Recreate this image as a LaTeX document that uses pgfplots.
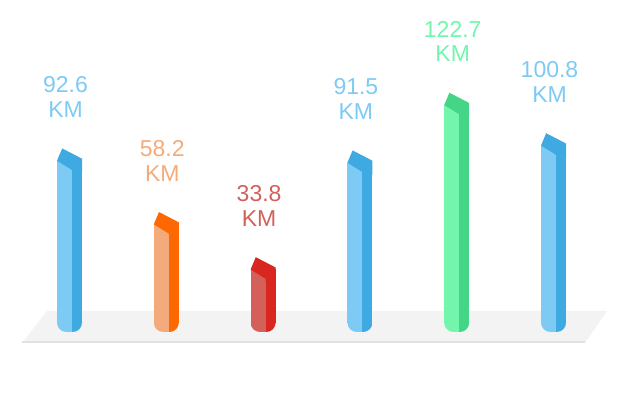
\documentclass[border=0pt]{standalone}
\usepackage{pgfplots}
\pgfplotsset{compat=1.18}
\usepackage{fontspec}
\setmainfont{Liberation Sans}
\definecolor{bL}{HTML}{7DCAF4}
\definecolor{bD}{HTML}{3FA9E1}
\definecolor{oL}{HTML}{F4AB7B}
\definecolor{oD}{HTML}{FD6802}
\definecolor{rL}{HTML}{D4605A}
\definecolor{rD}{HTML}{D92720}
\definecolor{gL}{HTML}{73F5AE}
\definecolor{gD}{HTML}{44D586}
\definecolor{floorc}{HTML}{F3F3F3}
\definecolor{floorl}{HTML}{E2E2E2}
% top cap (same colour as the side face)
\pgfdeclareplotmark{barcap}{%
  \pgfpathmoveto{\pgfpoint{-12.5pt}{0pt}}%
  \pgfpathlineto{\pgfpoint{-7.3pt}{12.3pt}}%
  \pgfpathlineto{\pgfpoint{12.5pt}{2pt}}%
  \pgfpathlineto{\pgfpoint{12.5pt}{-12pt}}%
  \pgfpathlineto{\pgfpoint{2.5pt}{-12pt}}%
  \pgfpathlineto{\pgfpoint{2.5pt}{-9.3pt}}%
  \pgfpathclose\pgfusepathqfill}
% masks that round the bottom corners
\pgfdeclareplotmark{maskL}{%
  \pgfpathmoveto{\pgfpoint{-12.8pt}{-0.3pt}}%
  \pgfpathlineto{\pgfpoint{-3.5pt}{-0.3pt}}%
  \pgfpathlineto{\pgfpoint{-3.5pt}{0pt}}%
  \pgfpatharc{270}{180}{9pt}%
  \pgfpathlineto{\pgfpoint{-12.8pt}{9pt}}%
  \pgfpathclose\pgfusepathqfill}
\pgfdeclareplotmark{maskR}{%
  \pgfpathmoveto{\pgfpoint{12.8pt}{-0.3pt}}%
  \pgfpathlineto{\pgfpoint{12.8pt}{9pt}}%
  \pgfpathlineto{\pgfpoint{12.5pt}{9pt}}%
  \pgfpatharc{0}{-90}{9pt}%
  \pgfpathlineto{\pgfpoint{3.5pt}{-0.3pt}}%
  \pgfpathclose\pgfusepathqfill}
\newcommand\drawbar[4]{%
  \addplot[ybar, bar width=15pt, bar shift=-5pt, fill=#3, draw=none] coordinates {(#1,#2)};
  \addplot[ybar, bar width=10pt, bar shift=7.5pt, fill=#4, draw=none] coordinates {(#1,#2)};
  \addplot[color=floorc, only marks, mark=maskL] coordinates {(#1,0)};
  \addplot[color=floorc, only marks, mark=maskR] coordinates {(#1,0)};
  \addplot[color=#4, only marks, mark=barcap, point meta=y,
    nodes near coords={\pgfmathprintnumber[fixed,fixed zerofill,precision=1,assume math mode=true]{\pgfplotspointmeta}\\KM},
    every node near coord/.append style={align=center, anchor=south, inner sep=0pt,
      yshift=43pt, xshift=-4pt, text=#3, font=\fontsize{23}{24.6}\selectfont}]
    coordinates {(#1,#2)};
}
\begin{document}
\begin{tikzpicture}
\path[use as bounding box] (0,0) rectangle (623pt,409pt);
\fill[floorc] (47pt,98pt) -- (607pt,98pt) -- (585pt,66pt) -- (22pt,66pt) -- cycle;
\draw[floorl, line width=2pt] (22pt,67pt) -- (585pt,67pt);
\begin{axis}[at={(0pt,0pt)}, anchor=south west, scale only axis,
  width=623pt, height=409pt,
  xmin=-0.718, xmax=5.718, ymin=-41.62, ymax=179.46,
  hide axis, clip=false]
\drawbar{0}{92.6}{bL}{bD}
\drawbar{1}{58.2}{oL}{oD}
\drawbar{2}{33.8}{rL}{rD}
\drawbar{3}{91.5}{bL}{bD}
\drawbar{4}{122.7}{gL}{gD}
\drawbar{5}{100.8}{bL}{bD}
\end{axis}
\end{tikzpicture}
\end{document}
